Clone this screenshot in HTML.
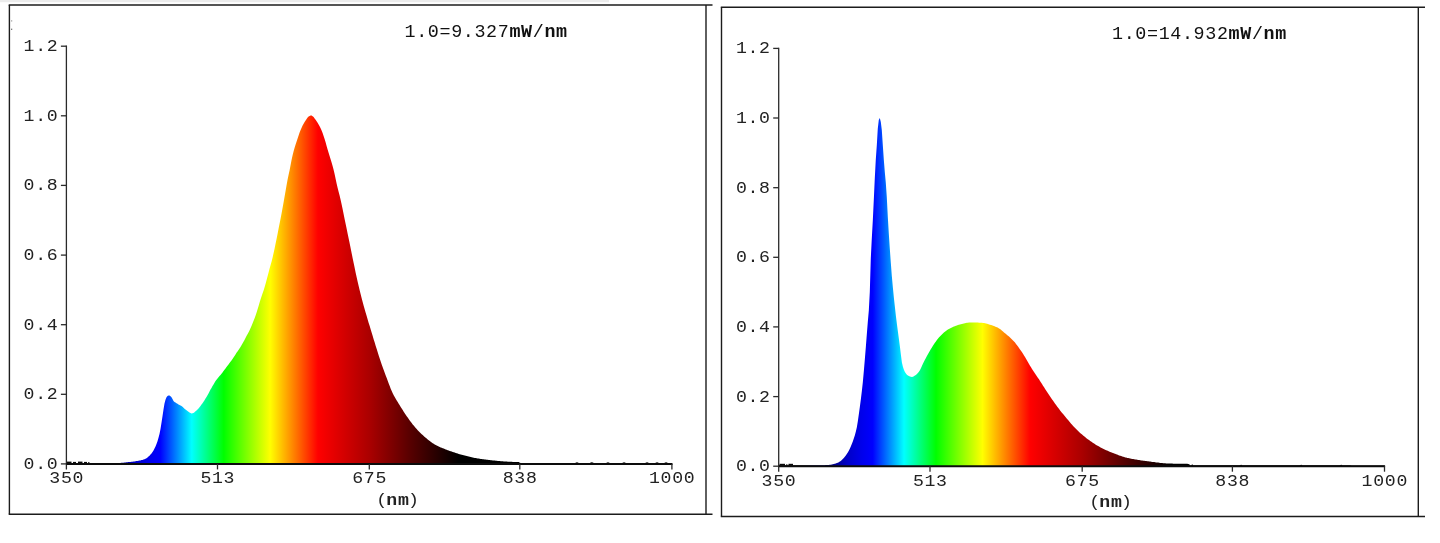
<!DOCTYPE html>
<html><head><meta charset="utf-8"><title>Spectrum</title>
<style>
html,body{margin:0;padding:0;background:#fff;}
body{width:1440px;height:543px;overflow:hidden;font-family:"Liberation Mono",monospace;}
svg{display:block;}
.t text{font-family:"Liberation Mono",monospace;font-size:18.2px;letter-spacing:0.68px;fill:#222;}
.t .b{font-weight:bold;}
.t text.ti{font-size:18.4px;letter-spacing:0.62px;fill:#111;}
</style></head><body>
<svg width="1440" height="543" viewBox="0 0 1440 543">
<defs>
<linearGradient id="gl" gradientUnits="userSpaceOnUse" x1="66.4" y1="0" x2="458.4" y2="0"><stop offset="0.0000" stop-color="#000000"/><stop offset="0.0612" stop-color="#000000"/><stop offset="0.0918" stop-color="#000048"/><stop offset="0.1148" stop-color="#000070"/><stop offset="0.1403" stop-color="#00008c"/><stop offset="0.1760" stop-color="#0000c8"/><stop offset="0.2117" stop-color="#0000eb"/><stop offset="0.2398" stop-color="#0000ff"/><stop offset="0.3196" stop-color="#00ffff"/><stop offset="0.4013" stop-color="#00ff00"/><stop offset="0.5199" stop-color="#ffff00"/><stop offset="0.6416" stop-color="#ff0000"/><stop offset="0.7730" stop-color="#aa0000"/><stop offset="0.8801" stop-color="#550000"/><stop offset="1.0000" stop-color="#000000"/></linearGradient>
<linearGradient id="gr" gradientUnits="userSpaceOnUse" x1="778.7" y1="0" x2="1170.7" y2="0"><stop offset="0.0000" stop-color="#000000"/><stop offset="0.0612" stop-color="#000000"/><stop offset="0.0918" stop-color="#000048"/><stop offset="0.1148" stop-color="#000070"/><stop offset="0.1403" stop-color="#00008c"/><stop offset="0.1760" stop-color="#0000c8"/><stop offset="0.2117" stop-color="#0000eb"/><stop offset="0.2398" stop-color="#0000ff"/><stop offset="0.3196" stop-color="#00ffff"/><stop offset="0.4013" stop-color="#00ff00"/><stop offset="0.5199" stop-color="#ffff00"/><stop offset="0.6416" stop-color="#ff0000"/><stop offset="0.7730" stop-color="#aa0000"/><stop offset="0.8801" stop-color="#550000"/><stop offset="1.0000" stop-color="#000000"/></linearGradient>
</defs>
<rect x="0" y="0" width="1440" height="543" fill="#ffffff"/>
<rect x="0" y="0" width="609" height="2.2" fill="#ececec"/>
<rect x="11.2" y="20.3" width="1" height="1.2" fill="#555" opacity="0.7"/><rect x="11.2" y="28.6" width="1" height="1.4" fill="#333" opacity="0.8"/>
<g stroke="#1c1c1c" stroke-width="1.4" fill="none">
<line x1="8.7" y1="5.0" x2="712.5" y2="5.0"/>
<line x1="8.7" y1="514.3" x2="712.5" y2="514.3"/>
<line x1="9.4" y1="5.0" x2="9.4" y2="514.3"/>
<line x1="706.0" y1="5.0" x2="706.0" y2="514.3"/>
</g>
<path d="M66.4,464.5 L66.4,463.0 L67.4,463.0 L68.4,463.0 L69.4,463.0 L70.4,463.0 L71.4,463.0 L72.4,463.0 L73.4,463.0 L74.4,463.0 L75.4,463.0 L76.4,463.0 L77.4,463.0 L78.4,463.0 L79.4,463.0 L80.4,463.0 L81.4,463.0 L82.4,463.0 L83.4,463.0 L84.4,463.0 L85.4,463.0 L86.4,463.0 L87.4,463.0 L88.4,463.0 L89.4,463.0 L90.4,463.0 L91.4,463.0 L92.4,463.0 L93.4,463.0 L94.4,463.0 L95.4,463.0 L96.4,463.0 L97.4,463.0 L98.4,463.0 L99.4,463.0 L100.4,463.0 L101.4,463.0 L102.4,463.0 L103.4,463.0 L104.4,463.0 L105.4,463.0 L106.4,463.0 L107.4,463.0 L108.4,463.0 L109.4,463.0 L110.4,463.0 L111.4,463.0 L112.4,462.9 L113.4,462.9 L114.4,462.9 L115.4,462.9 L116.4,462.9 L117.4,462.9 L118.4,462.9 L119.4,462.9 L120.4,462.9 L121.4,462.8 L122.4,462.8 L123.4,462.7 L124.4,462.6 L125.4,462.4 L126.4,462.3 L127.5,462.2 L128.5,462.1 L129.5,462.0 L130.5,461.9 L131.5,461.8 L132.5,461.7 L133.5,461.5 L134.5,461.4 L135.5,461.3 L136.5,461.1 L137.5,461.0 L138.5,460.8 L139.5,460.6 L140.5,460.4 L141.5,460.1 L142.5,459.9 L143.5,459.6 L144.5,459.2 L145.5,458.8 L146.5,458.2 L147.5,457.5 L148.5,456.6 L149.5,455.7 L150.5,454.6 L151.5,453.5 L152.5,452.1 L153.5,450.4 L154.5,448.6 L155.5,446.5 L156.5,444.1 L157.5,441.2 L158.5,437.8 L159.5,433.9 L160.5,429.0 L161.5,422.7 L162.5,416.3 L163.5,409.4 L164.5,403.4 L165.5,399.8 L166.5,397.2 L167.5,396.1 L168.5,395.4 L169.5,395.4 L170.5,396.2 L171.5,397.2 L172.5,399.0 L173.5,400.9 L174.5,401.9 L175.5,402.6 L176.5,403.2 L177.5,403.8 L178.5,404.4 L179.5,404.9 L180.5,405.4 L181.5,406.0 L182.5,406.8 L183.5,407.8 L184.5,408.7 L185.5,409.6 L186.5,410.3 L187.5,411.1 L188.5,411.8 L189.5,412.5 L190.5,413.1 L191.5,413.4 L192.5,413.3 L193.5,412.9 L194.5,412.2 L195.5,411.3 L196.5,410.4 L197.5,409.5 L198.5,408.4 L199.5,407.2 L200.5,405.9 L201.5,404.6 L202.5,403.2 L203.5,401.8 L204.5,400.2 L205.5,398.6 L206.5,397.0 L207.5,395.2 L208.5,393.4 L209.5,391.5 L210.5,389.6 L211.5,387.9 L212.5,386.1 L213.5,384.4 L214.5,382.7 L215.5,381.1 L216.5,379.7 L217.5,378.4 L218.5,377.2 L219.5,376.1 L220.5,375.0 L221.5,373.7 L222.5,372.4 L223.5,371.1 L224.5,369.7 L225.5,368.4 L226.5,367.0 L227.5,365.7 L228.5,364.4 L229.5,363.1 L230.5,361.8 L231.5,360.4 L232.5,358.9 L233.5,357.4 L234.5,355.9 L235.5,354.4 L236.5,352.8 L237.5,351.4 L238.5,349.9 L239.5,348.4 L240.5,346.9 L241.5,345.3 L242.5,343.6 L243.5,341.8 L244.5,339.9 L245.5,338.0 L246.5,336.1 L247.5,334.2 L248.6,332.2 L249.6,330.2 L250.6,328.0 L251.6,325.7 L252.6,323.3 L253.6,320.8 L254.6,318.2 L255.6,315.5 L256.6,312.5 L257.6,309.3 L258.6,305.9 L259.6,302.5 L260.6,299.3 L261.6,296.3 L262.6,293.3 L263.6,290.4 L264.6,287.2 L265.6,283.8 L266.6,280.1 L267.6,276.3 L268.6,272.4 L269.6,268.6 L270.6,265.0 L271.6,261.4 L272.6,257.4 L273.6,253.0 L274.6,248.4 L275.6,243.5 L276.6,238.7 L277.6,233.7 L278.6,228.6 L279.6,223.6 L280.6,218.5 L281.6,213.3 L282.6,207.8 L283.6,202.2 L284.6,196.5 L285.6,190.8 L286.6,184.9 L287.6,179.4 L288.6,174.7 L289.6,170.2 L290.6,164.9 L291.6,159.7 L292.6,155.3 L293.6,151.3 L294.6,147.8 L295.6,144.6 L296.6,141.5 L297.6,138.5 L298.6,135.5 L299.6,132.6 L300.6,130.1 L301.6,127.7 L302.6,125.6 L303.6,123.7 L304.6,121.9 L305.6,120.4 L306.6,119.0 L307.6,117.6 L308.6,116.6 L309.6,115.9 L310.6,115.5 L311.6,115.6 L312.6,116.2 L313.6,117.0 L314.6,118.4 L315.6,119.8 L316.6,121.2 L317.6,122.7 L318.6,124.4 L319.6,126.3 L320.6,128.3 L321.6,130.6 L322.6,133.1 L323.6,136.0 L324.6,139.0 L325.6,142.3 L326.6,145.9 L327.6,149.5 L328.6,152.8 L329.6,156.0 L330.6,159.2 L331.6,162.5 L332.6,165.9 L333.6,169.7 L334.6,174.0 L335.6,178.8 L336.6,183.5 L337.6,187.8 L338.6,191.7 L339.6,195.6 L340.6,199.7 L341.6,204.2 L342.6,209.1 L343.6,214.0 L344.6,218.9 L345.6,223.8 L346.6,228.6 L347.6,233.4 L348.6,238.2 L349.6,243.1 L350.6,248.0 L351.6,252.9 L352.6,257.9 L353.6,262.7 L354.6,267.6 L355.6,272.5 L356.6,277.1 L357.6,281.6 L358.6,285.8 L359.6,290.0 L360.6,294.0 L361.6,297.9 L362.6,301.7 L363.6,305.4 L364.6,308.9 L365.6,312.4 L366.6,315.8 L367.6,319.3 L368.6,322.7 L369.7,326.1 L370.7,329.4 L371.7,332.8 L372.7,336.1 L373.7,339.4 L374.7,342.6 L375.7,345.9 L376.7,349.1 L377.7,352.3 L378.7,355.5 L379.7,358.6 L380.7,361.6 L381.7,364.4 L382.7,367.3 L383.7,370.0 L384.7,372.7 L385.7,375.4 L386.7,378.0 L387.7,380.7 L388.7,383.5 L389.7,386.1 L390.7,388.7 L391.7,391.1 L392.7,393.3 L393.7,395.2 L394.7,397.0 L395.7,398.8 L396.7,400.4 L397.7,402.1 L398.7,403.7 L399.7,405.3 L400.7,406.9 L401.7,408.5 L402.7,410.1 L403.7,411.7 L404.7,413.2 L405.7,414.7 L406.7,416.2 L407.7,417.6 L408.7,419.0 L409.7,420.4 L410.7,421.8 L411.7,423.1 L412.7,424.4 L413.7,425.6 L414.7,426.8 L415.7,428.0 L416.7,429.1 L417.7,430.2 L418.7,431.3 L419.7,432.3 L420.7,433.3 L421.7,434.2 L422.7,435.1 L423.7,436.0 L424.7,436.9 L425.7,437.8 L426.7,438.6 L427.7,439.4 L428.7,440.2 L429.7,441.0 L430.7,441.8 L431.7,442.5 L432.7,443.2 L433.7,443.8 L434.7,444.4 L435.7,445.0 L436.7,445.5 L437.7,446.0 L438.7,446.5 L439.7,447.0 L440.7,447.4 L441.7,447.8 L442.7,448.2 L443.7,448.6 L444.7,449.0 L445.7,449.4 L446.7,449.8 L447.7,450.2 L448.7,450.6 L449.7,450.9 L450.7,451.3 L451.7,451.6 L452.7,452.0 L453.7,452.3 L454.7,452.6 L455.7,453.0 L456.7,453.3 L457.7,453.6 L458.7,453.9 L459.7,454.2 L460.7,454.4 L461.7,454.7 L462.7,455.0 L463.7,455.3 L464.7,455.6 L465.7,455.8 L466.7,456.1 L467.7,456.3 L468.7,456.6 L469.7,456.8 L470.7,457.1 L471.7,457.3 L472.7,457.5 L473.7,457.7 L474.7,457.9 L475.7,458.1 L476.7,458.3 L477.7,458.4 L478.7,458.6 L479.7,458.7 L480.7,458.9 L481.7,459.0 L482.7,459.2 L483.7,459.3 L484.7,459.5 L485.7,459.6 L486.7,459.7 L487.7,459.8 L488.7,460.0 L489.7,460.1 L490.8,460.2 L491.8,460.3 L492.8,460.4 L493.8,460.5 L494.8,460.6 L495.8,460.7 L496.8,460.8 L497.8,460.9 L498.8,461.0 L499.8,461.1 L500.8,461.2 L501.8,461.3 L502.8,461.3 L503.8,461.4 L504.8,461.5 L505.8,461.6 L506.8,461.6 L507.8,461.7 L508.8,461.8 L509.8,461.8 L510.8,461.8 L511.8,461.8 L512.8,461.9 L513.8,461.9 L514.8,461.9 L515.8,461.9 L516.8,461.9 L517.8,462.0 L518.8,462.0 L519.8,462.8 L520.8,463.0 L521.8,463.0 L522.8,463.0 L523.8,463.0 L524.8,463.0 L525.8,463.0 L526.8,463.0 L527.8,463.0 L528.8,463.0 L529.8,463.0 L530.8,463.0 L531.8,463.0 L532.8,463.0 L533.8,463.0 L534.8,463.0 L535.8,463.0 L536.8,463.0 L537.8,463.0 L538.8,463.0 L539.8,463.0 L540.8,463.0 L541.8,463.0 L542.8,463.0 L543.8,463.0 L544.8,463.0 L545.8,463.0 L546.8,463.0 L547.8,463.0 L548.8,463.0 L549.8,463.0 L550.8,463.0 L551.8,463.0 L552.8,463.0 L553.8,463.0 L554.8,463.0 L555.8,463.0 L556.8,463.0 L557.8,463.0 L558.8,463.0 L559.8,463.0 L560.8,463.0 L561.8,463.0 L562.8,463.0 L563.8,463.0 L564.8,463.0 L565.8,463.0 L566.8,463.0 L567.8,463.0 L568.8,463.0 L569.8,463.0 L570.8,463.0 L571.8,463.0 L572.8,463.0 L573.8,463.0 L574.8,463.0 L575.8,462.7 L576.8,462.3 L577.8,462.6 L578.8,463.0 L579.8,463.0 L580.8,463.0 L581.8,463.0 L582.8,463.0 L583.8,463.0 L584.8,463.0 L585.8,463.0 L586.8,463.0 L587.8,462.9 L588.8,462.9 L589.8,462.9 L590.8,462.6 L591.8,462.2 L592.8,462.5 L593.8,462.9 L594.8,462.9 L595.8,462.9 L596.8,462.9 L597.8,462.9 L598.8,462.9 L599.8,462.9 L600.8,462.9 L601.8,462.9 L602.8,462.9 L603.8,462.9 L604.8,462.9 L605.8,462.9 L606.8,462.7 L607.8,462.3 L608.8,462.6 L609.8,463.0 L610.8,463.0 L611.9,463.0 L612.9,463.0 L613.9,463.0 L614.9,463.0 L615.9,463.0 L616.9,463.0 L617.9,463.0 L618.9,463.0 L619.9,463.0 L620.9,463.0 L621.9,463.0 L622.9,462.7 L623.9,462.3 L624.9,462.6 L625.9,463.0 L626.9,463.0 L627.9,463.0 L628.9,463.0 L629.9,463.0 L630.9,463.0 L631.9,463.0 L632.9,463.0 L633.9,463.0 L634.9,463.0 L635.9,463.0 L636.9,463.0 L637.9,463.0 L638.9,463.0 L639.9,463.0 L640.9,463.0 L641.9,463.0 L642.9,463.0 L643.9,463.0 L644.9,463.0 L645.9,462.7 L646.9,462.3 L647.9,462.6 L648.9,463.0 L649.9,463.0 L650.9,463.0 L651.9,463.0 L652.9,463.0 L653.9,463.0 L654.9,463.0 L655.9,462.7 L656.9,462.2 L657.9,462.5 L658.9,463.0 L659.9,463.0 L660.9,463.0 L661.9,463.0 L662.9,463.0 L663.9,463.0 L664.9,462.7 L665.9,462.3 L666.9,462.6 L667.9,463.0 L668.9,463.0 L669.9,463.0 L670.9,463.0 L671.9,463.0 L671.9,464.5 Z" fill="url(#gl)"/>
<rect x="67.0" y="461.6" width="4.5" height="1.8" fill="#0a0a0a"/>
<rect x="73.0" y="461.9" width="3.0" height="1.5" fill="#0a0a0a"/>
<rect x="78.0" y="461.6" width="4.5" height="1.8" fill="#0a0a0a"/>
<rect x="84.0" y="461.9" width="3.0" height="1.5" fill="#0a0a0a"/>
<rect x="88.0" y="462.2" width="1.5" height="1.2" fill="#0a0a0a"/>
<g stroke="#2a2a2a" stroke-width="1.3" fill="none">
<line x1="66.4" y1="45.6" x2="66.4" y2="469.4"/>
<line x1="66.4" y1="463.9" x2="672.5" y2="463.9" stroke-width="2.0" stroke="#0c0c0c"/>
<line x1="60.9" y1="463.9" x2="66.4" y2="463.9"/>
<line x1="60.9" y1="394.3" x2="66.4" y2="394.3"/>
<line x1="60.9" y1="324.7" x2="66.4" y2="324.7"/>
<line x1="60.9" y1="255.1" x2="66.4" y2="255.1"/>
<line x1="60.9" y1="185.4" x2="66.4" y2="185.4"/>
<line x1="60.9" y1="115.8" x2="66.4" y2="115.8"/>
<line x1="60.9" y1="46.2" x2="66.4" y2="46.2"/>
<line x1="217.5" y1="463.9" x2="217.5" y2="469.4"/>
<line x1="369.3" y1="463.9" x2="369.3" y2="469.4"/>
<line x1="519.8" y1="463.9" x2="519.8" y2="469.4"/>
<line x1="671.9" y1="463.9" x2="671.9" y2="469.4"/>
</g>
<g class="t" style="filter:grayscale(1)">
<text transform="translate(58.4,468.9) scale(1,0.95)" text-anchor="end">0.0</text>
<text transform="translate(58.4,399.3) scale(1,0.95)" text-anchor="end">0.2</text>
<text transform="translate(58.4,329.7) scale(1,0.95)" text-anchor="end">0.4</text>
<text transform="translate(58.4,260.1) scale(1,0.95)" text-anchor="end">0.6</text>
<text transform="translate(58.4,190.4) scale(1,0.95)" text-anchor="end">0.8</text>
<text transform="translate(58.4,120.8) scale(1,0.95)" text-anchor="end">1.0</text>
<text transform="translate(58.4,51.2) scale(1,0.95)" text-anchor="end">1.2</text>
<text transform="translate(66.7,483.3) scale(1,0.95)" text-anchor="middle">350</text>
<text transform="translate(217.8,483.3) scale(1,0.95)" text-anchor="middle">513</text>
<text transform="translate(369.6,483.3) scale(1,0.95)" text-anchor="middle">675</text>
<text transform="translate(520.1,483.3) scale(1,0.95)" text-anchor="middle">838</text>
<text transform="translate(672.2,483.3) scale(1,0.95)" text-anchor="middle">1000</text>
<text transform="translate(396.3,504.7) scale(1,0.95)" text-anchor="middle"><tspan dx="1.6">(</tspan><tspan dx="-1.6" class="b">nm</tspan><tspan dx="-1.6">)</tspan></text>
<text transform="translate(404.5,36.5) scale(1,0.95)" class="ti">1.0=9.327<tspan class="b">mW</tspan>/<tspan class="b">nm</tspan></text>
</g>
<g stroke="#1c1c1c" stroke-width="1.4" fill="none">
<line x1="720.8" y1="7.2" x2="1425.0" y2="7.2"/>
<line x1="720.8" y1="516.5" x2="1425.0" y2="516.5"/>
<line x1="721.5" y1="7.2" x2="721.5" y2="516.5"/>
<line x1="1418.3" y1="7.2" x2="1418.3" y2="516.5"/>
</g>
<path d="M778.7,466.8 L778.7,465.3 L779.7,465.3 L780.7,465.3 L781.7,465.3 L782.7,465.3 L783.7,465.3 L784.7,465.3 L785.7,465.3 L786.7,465.3 L787.7,465.3 L788.7,465.3 L789.7,465.3 L790.7,465.3 L791.7,465.3 L792.7,465.3 L793.7,465.3 L794.7,465.3 L795.7,465.3 L796.7,465.3 L797.7,465.3 L798.7,465.3 L799.7,465.3 L800.7,465.3 L801.7,465.3 L802.7,465.3 L803.7,465.3 L804.7,465.3 L805.7,465.3 L806.7,465.3 L807.7,465.3 L808.7,465.3 L809.7,465.3 L810.7,465.3 L811.7,465.3 L812.7,465.3 L813.7,465.3 L814.7,465.3 L815.7,465.3 L816.8,465.3 L817.8,465.3 L818.8,465.3 L819.8,465.3 L820.8,465.3 L821.8,465.3 L822.8,465.3 L823.8,465.2 L824.8,465.2 L825.8,465.1 L826.8,465.1 L827.8,465.0 L828.8,464.9 L829.8,464.8 L830.8,464.7 L831.8,464.5 L832.8,464.3 L833.8,464.1 L834.8,463.8 L835.8,463.4 L836.8,463.1 L837.8,462.7 L838.8,462.2 L839.8,461.6 L840.8,460.9 L841.8,460.0 L842.8,459.0 L843.8,457.9 L844.8,456.8 L845.8,455.5 L846.8,454.1 L847.8,452.5 L848.8,450.8 L849.8,448.8 L850.8,446.5 L851.8,444.0 L852.8,441.4 L853.8,438.6 L854.8,435.4 L855.8,431.8 L856.8,427.4 L857.8,421.6 L858.8,414.6 L859.8,407.3 L860.8,399.7 L861.8,391.6 L862.8,382.5 L863.8,371.6 L864.8,359.7 L865.8,347.4 L866.8,334.4 L867.8,322.1 L868.8,310.7 L869.8,291.9 L870.8,258.3 L871.8,238.4 L872.8,220.7 L873.8,200.0 L874.8,178.3 L875.8,159.4 L876.8,145.5 L877.8,128.4 L878.8,119.9 L879.8,117.9 L880.8,122.1 L881.8,130.1 L882.8,145.1 L883.8,159.6 L884.8,172.0 L885.8,182.8 L886.8,197.3 L887.8,216.7 L888.8,233.5 L889.8,248.5 L890.8,262.5 L891.8,275.8 L892.9,287.8 L893.9,297.9 L894.9,306.9 L895.9,315.9 L896.9,324.0 L897.9,331.4 L898.9,339.0 L899.9,346.5 L900.9,354.8 L901.9,362.5 L902.9,366.7 L903.9,369.7 L904.9,372.0 L905.9,373.5 L906.9,374.7 L907.9,375.6 L908.9,376.1 L909.9,376.5 L910.9,376.7 L911.9,376.9 L912.9,376.8 L913.9,376.3 L914.9,375.6 L915.9,374.9 L916.9,374.1 L917.9,373.0 L918.9,371.8 L919.9,370.2 L920.9,368.2 L921.9,366.1 L922.9,363.8 L923.9,361.7 L924.9,359.8 L925.9,357.9 L926.9,356.0 L927.9,354.2 L928.9,352.4 L929.9,350.7 L930.9,349.1 L931.9,347.4 L932.9,345.8 L933.9,344.2 L934.9,342.8 L935.9,341.4 L936.9,340.1 L937.9,338.8 L938.9,337.6 L939.9,336.5 L940.9,335.5 L941.9,334.5 L942.9,333.5 L943.9,332.6 L944.9,331.8 L945.9,331.0 L946.9,330.3 L947.9,329.6 L948.9,329.1 L949.9,328.5 L950.9,328.0 L951.9,327.5 L952.9,327.1 L953.9,326.6 L954.9,326.2 L955.9,325.8 L956.9,325.4 L957.9,325.0 L958.9,324.7 L959.9,324.4 L960.9,324.2 L961.9,323.9 L962.9,323.7 L963.9,323.4 L964.9,323.2 L965.9,323.0 L966.9,322.8 L967.9,322.7 L969.0,322.6 L970.0,322.5 L971.0,322.5 L972.0,322.5 L973.0,322.5 L974.0,322.5 L975.0,322.6 L976.0,322.6 L977.0,322.6 L978.0,322.6 L979.0,322.7 L980.0,322.7 L981.0,322.8 L982.0,322.8 L983.0,322.9 L984.0,323.1 L985.0,323.3 L986.0,323.5 L987.0,323.8 L988.0,324.1 L989.0,324.4 L990.0,324.7 L991.0,325.0 L992.0,325.3 L993.0,325.7 L994.0,326.0 L995.0,326.4 L996.0,326.9 L997.0,327.3 L998.0,327.8 L999.0,328.4 L1000.0,329.0 L1001.0,329.8 L1002.0,330.7 L1003.0,331.5 L1004.0,332.4 L1005.0,333.2 L1006.0,334.0 L1007.0,334.9 L1008.0,335.7 L1009.0,336.6 L1010.0,337.5 L1011.0,338.4 L1012.0,339.4 L1013.0,340.4 L1014.0,341.5 L1015.0,342.6 L1016.0,343.9 L1017.0,345.2 L1018.0,346.5 L1019.0,347.9 L1020.0,349.4 L1021.0,350.8 L1022.0,352.3 L1023.0,353.8 L1024.0,355.4 L1025.0,357.0 L1026.0,358.7 L1027.0,360.4 L1028.0,362.2 L1029.0,363.9 L1030.0,365.7 L1031.0,367.3 L1032.0,369.0 L1033.0,370.5 L1034.0,372.0 L1035.0,373.5 L1036.0,374.9 L1037.0,376.4 L1038.0,377.9 L1039.0,379.3 L1040.0,380.9 L1041.0,382.4 L1042.0,384.0 L1043.0,385.7 L1044.1,387.3 L1045.1,388.9 L1046.1,390.5 L1047.1,392.0 L1048.1,393.5 L1049.1,395.0 L1050.1,396.5 L1051.1,398.0 L1052.1,399.4 L1053.1,400.8 L1054.1,402.3 L1055.1,403.7 L1056.1,405.1 L1057.1,406.4 L1058.1,407.8 L1059.1,409.1 L1060.1,410.4 L1061.1,411.7 L1062.1,412.9 L1063.1,414.1 L1064.1,415.3 L1065.1,416.5 L1066.1,417.7 L1067.1,418.9 L1068.1,420.1 L1069.1,421.3 L1070.1,422.5 L1071.1,423.7 L1072.1,424.8 L1073.1,425.9 L1074.1,426.9 L1075.1,428.0 L1076.1,429.0 L1077.1,430.0 L1078.1,431.0 L1079.1,432.0 L1080.1,432.9 L1081.1,433.8 L1082.1,434.6 L1083.1,435.5 L1084.1,436.3 L1085.1,437.1 L1086.1,437.9 L1087.1,438.7 L1088.1,439.4 L1089.1,440.1 L1090.1,440.9 L1091.1,441.6 L1092.1,442.3 L1093.1,442.9 L1094.1,443.6 L1095.1,444.2 L1096.1,444.9 L1097.1,445.5 L1098.1,446.1 L1099.1,446.6 L1100.1,447.2 L1101.1,447.7 L1102.1,448.2 L1103.1,448.7 L1104.1,449.2 L1105.1,449.7 L1106.1,450.2 L1107.1,450.6 L1108.1,451.0 L1109.1,451.4 L1110.1,451.9 L1111.1,452.3 L1112.1,452.7 L1113.1,453.1 L1114.1,453.4 L1115.1,453.8 L1116.1,454.2 L1117.1,454.6 L1118.1,455.0 L1119.1,455.4 L1120.2,455.8 L1121.2,456.1 L1122.2,456.5 L1123.2,456.8 L1124.2,457.1 L1125.2,457.4 L1126.2,457.6 L1127.2,457.9 L1128.2,458.1 L1129.2,458.3 L1130.2,458.5 L1131.2,458.7 L1132.2,458.9 L1133.2,459.1 L1134.2,459.3 L1135.2,459.4 L1136.2,459.6 L1137.2,459.8 L1138.2,459.9 L1139.2,460.1 L1140.2,460.2 L1141.2,460.4 L1142.2,460.5 L1143.2,460.7 L1144.2,460.8 L1145.2,460.9 L1146.2,461.1 L1147.2,461.2 L1148.2,461.3 L1149.2,461.5 L1150.2,461.6 L1151.2,461.7 L1152.2,461.9 L1153.2,462.0 L1154.2,462.1 L1155.2,462.3 L1156.2,462.4 L1157.2,462.5 L1158.2,462.6 L1159.2,462.8 L1160.2,462.9 L1161.2,463.0 L1162.2,463.1 L1163.2,463.2 L1164.2,463.3 L1165.2,463.3 L1166.2,463.4 L1167.2,463.5 L1168.2,463.5 L1169.2,463.6 L1170.2,463.6 L1171.2,463.6 L1172.2,463.6 L1173.2,463.7 L1174.2,463.7 L1175.2,463.7 L1176.2,463.7 L1177.2,463.7 L1178.2,463.7 L1179.2,463.7 L1180.2,463.7 L1181.2,463.7 L1182.2,463.7 L1183.2,463.7 L1184.2,463.8 L1185.2,463.8 L1186.2,463.8 L1187.2,463.8 L1188.2,463.9 L1189.2,464.3 L1190.2,465.3 L1191.2,465.3 L1192.2,464.3 L1193.2,465.3 L1194.2,465.3 L1195.3,465.3 L1196.3,465.3 L1197.3,465.3 L1198.3,465.3 L1199.3,465.3 L1200.3,465.3 L1201.3,465.3 L1202.3,465.3 L1203.3,465.3 L1204.3,465.3 L1205.3,465.3 L1206.3,465.3 L1207.3,465.3 L1208.3,465.3 L1209.3,465.3 L1210.3,465.3 L1211.3,465.3 L1212.3,465.3 L1213.3,465.3 L1214.3,465.3 L1215.3,465.3 L1216.3,465.3 L1217.3,465.3 L1218.3,465.3 L1219.3,465.3 L1220.3,465.3 L1221.3,465.3 L1222.3,465.3 L1223.3,465.3 L1224.3,465.3 L1225.3,465.3 L1226.3,465.3 L1227.3,465.3 L1228.3,465.3 L1229.3,465.3 L1230.3,465.3 L1231.3,465.3 L1232.3,465.3 L1233.3,465.3 L1234.3,465.3 L1235.3,465.3 L1236.3,465.3 L1237.3,465.3 L1238.3,465.3 L1239.3,465.3 L1240.3,465.1 L1241.3,464.8 L1242.3,465.3 L1243.3,465.3 L1244.3,465.3 L1245.3,465.3 L1246.3,465.3 L1247.3,465.3 L1248.3,465.3 L1249.3,465.3 L1250.3,465.3 L1251.3,465.3 L1252.3,465.3 L1253.3,465.3 L1254.3,465.3 L1255.3,465.3 L1256.3,465.3 L1257.3,465.3 L1258.3,465.3 L1259.3,465.3 L1260.3,465.3 L1261.3,465.3 L1262.3,465.3 L1263.3,465.3 L1264.3,465.3 L1265.3,465.3 L1266.3,465.3 L1267.3,465.3 L1268.3,465.3 L1269.3,465.3 L1270.3,465.3 L1271.4,465.3 L1272.4,465.3 L1273.4,465.3 L1274.4,465.3 L1275.4,465.3 L1276.4,465.3 L1277.4,465.3 L1278.4,465.3 L1279.4,465.3 L1280.4,465.3 L1281.4,465.3 L1282.4,465.3 L1283.4,465.3 L1284.4,465.3 L1285.4,465.3 L1286.4,465.3 L1287.4,465.3 L1288.4,465.3 L1289.4,465.3 L1290.4,465.3 L1291.4,465.3 L1292.4,465.3 L1293.4,465.3 L1294.4,465.3 L1295.4,465.3 L1296.4,465.3 L1297.4,465.3 L1298.4,465.3 L1299.4,465.3 L1300.4,465.0 L1301.4,464.8 L1302.4,465.3 L1303.4,465.3 L1304.4,465.3 L1305.4,465.3 L1306.4,465.3 L1307.4,465.3 L1308.4,465.3 L1309.4,465.3 L1310.4,465.3 L1311.4,465.3 L1312.4,465.3 L1313.4,465.3 L1314.4,465.3 L1315.4,465.3 L1316.4,465.3 L1317.4,465.3 L1318.4,465.3 L1319.4,465.3 L1320.4,465.3 L1321.4,465.3 L1322.4,465.3 L1323.4,465.3 L1324.4,465.3 L1325.4,465.3 L1326.4,465.3 L1327.4,465.3 L1328.4,465.3 L1329.4,465.3 L1330.4,465.3 L1331.4,465.3 L1332.4,465.3 L1333.4,465.3 L1334.4,465.3 L1335.4,465.3 L1336.4,465.3 L1337.4,465.3 L1338.4,465.3 L1339.4,465.3 L1340.4,465.0 L1341.4,464.8 L1342.4,465.3 L1343.4,465.3 L1344.4,465.3 L1345.4,465.3 L1346.4,465.3 L1347.5,465.3 L1348.5,465.3 L1349.5,465.3 L1350.5,465.3 L1351.5,465.4 L1352.5,465.4 L1353.5,465.4 L1354.5,465.4 L1355.5,465.4 L1356.5,465.4 L1357.5,465.4 L1358.5,465.4 L1359.5,465.4 L1360.5,465.4 L1361.5,465.4 L1362.5,465.4 L1363.5,465.4 L1364.5,465.4 L1365.5,465.4 L1366.5,465.4 L1367.5,465.4 L1368.5,465.4 L1369.5,465.4 L1370.5,465.4 L1371.5,465.4 L1372.5,465.4 L1373.5,465.4 L1374.5,465.4 L1375.5,465.4 L1376.5,465.4 L1377.5,465.4 L1378.5,465.4 L1379.5,465.4 L1380.5,465.4 L1381.5,465.4 L1382.5,465.4 L1383.5,465.4 L1384.5,465.4 L1384.5,466.8 Z" fill="url(#gr)"/>
<rect x="779.5" y="463.8" width="5.5" height="1.9" fill="#0a0a0a"/>
<rect x="786.0" y="464.4" width="1.5" height="1.3" fill="#0a0a0a"/>
<rect x="788.5" y="463.8" width="4.5" height="1.9" fill="#0a0a0a"/>
<g stroke="#2a2a2a" stroke-width="1.3" fill="none">
<line x1="778.7" y1="47.8" x2="778.7" y2="471.7"/>
<line x1="778.7" y1="466.2" x2="1385.1" y2="466.2" stroke-width="2.0" stroke="#0c0c0c"/>
<line x1="773.2" y1="466.2" x2="778.7" y2="466.2"/>
<line x1="773.2" y1="396.6" x2="778.7" y2="396.6"/>
<line x1="773.2" y1="326.9" x2="778.7" y2="326.9"/>
<line x1="773.2" y1="257.3" x2="778.7" y2="257.3"/>
<line x1="773.2" y1="187.7" x2="778.7" y2="187.7"/>
<line x1="773.2" y1="118.0" x2="778.7" y2="118.0"/>
<line x1="773.2" y1="48.4" x2="778.7" y2="48.4"/>
<line x1="930.0" y1="466.2" x2="930.0" y2="471.7"/>
<line x1="1082.2" y1="466.2" x2="1082.2" y2="471.7"/>
<line x1="1232.4" y1="466.2" x2="1232.4" y2="471.7"/>
<line x1="1384.5" y1="466.2" x2="1384.5" y2="471.7"/>
</g>
<g class="t" style="filter:grayscale(1)">
<text transform="translate(770.7,471.2) scale(1,0.95)" text-anchor="end">0.0</text>
<text transform="translate(770.7,401.6) scale(1,0.95)" text-anchor="end">0.2</text>
<text transform="translate(770.7,331.9) scale(1,0.95)" text-anchor="end">0.4</text>
<text transform="translate(770.7,262.3) scale(1,0.95)" text-anchor="end">0.6</text>
<text transform="translate(770.7,192.7) scale(1,0.95)" text-anchor="end">0.8</text>
<text transform="translate(770.7,123.0) scale(1,0.95)" text-anchor="end">1.0</text>
<text transform="translate(770.7,53.4) scale(1,0.95)" text-anchor="end">1.2</text>
<text transform="translate(779.0,485.6) scale(1,0.95)" text-anchor="middle">350</text>
<text transform="translate(930.3,485.6) scale(1,0.95)" text-anchor="middle">513</text>
<text transform="translate(1082.5,485.6) scale(1,0.95)" text-anchor="middle">675</text>
<text transform="translate(1232.7,485.6) scale(1,0.95)" text-anchor="middle">838</text>
<text transform="translate(1384.8,485.6) scale(1,0.95)" text-anchor="middle">1000</text>
<text transform="translate(1109.3,506.7) scale(1,0.95)" text-anchor="middle"><tspan dx="1.6">(</tspan><tspan dx="-1.6" class="b">nm</tspan><tspan dx="-1.6">)</tspan></text>
<text transform="translate(1112.0,38.5) scale(1,0.95)" class="ti">1.0=14.932<tspan class="b">mW</tspan>/<tspan class="b">nm</tspan></text>
</g>
</svg>
</body></html>
